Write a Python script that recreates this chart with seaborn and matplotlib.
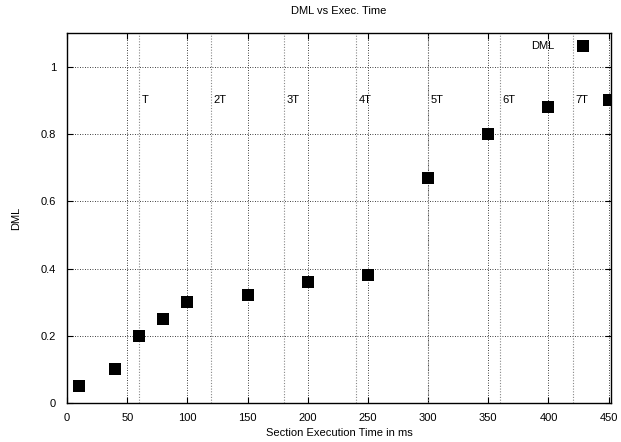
import matplotlib
matplotlib.use("Agg")
import matplotlib.pyplot as plt
import seaborn as sns
import pandas as pd

exec_time = [10, 40, 60, 80, 100, 150, 200, 250, 300, 350, 400, 450]
dml = [0.05, 0.10, 0.20, 0.25, 0.30, 0.32, 0.36, 0.38, 0.67, 0.80, 0.88, 0.90]
t_positions = [60, 120, 180, 240, 300, 360, 420]
t_labels = ["T", "2T", "3T", "4T", "5T", "6T", "7T"]
x_ticks = [0, 50, 100, 150, 200, 250, 300, 350, 400, 450]
y_ticks = [0, 0.2, 0.4, 0.6, 0.8, 1.0]
y_tick_labels = ["0", "0.2", "0.4", "0.6", "0.8", "1"]

sns.set_style("white")
plt.rcParams["font.family"] = ["Liberation Sans", "DejaVu Sans"]
plt.rcParams["text.color"] = "black"
plt.rcParams["axes.labelcolor"] = "black"
plt.rcParams["xtick.color"] = "black"
plt.rcParams["ytick.color"] = "black"

fig = plt.figure(figsize=(6.21, 4.42), dpi=100)
ax = fig.add_axes([0.108, 0.088, 0.876, 0.837])

df = pd.DataFrame({"x": exec_time, "y": dml})
sns.scatterplot(data=df, x="x", y="y", marker="s", s=80, color="black",
                edgecolor="black", linewidth=0, ax=ax, label="DML", zorder=5)

ax.set_xlim(0, 452)
ax.set_ylim(0, 1.1)
ax.set_xticks(x_ticks)
ax.set_yticks(y_ticks)
ax.set_yticklabels(y_tick_labels)

ax.grid(True, color="black", linestyle=(0, (1, 2)), linewidth=0.6)
for xp, lab in zip(t_positions, t_labels):
    ax.axvline(xp, color="#888888", linestyle=(0, (1, 1.5)), linewidth=0.8, zorder=1)
    ax.text(xp + 2, 0.9, lab, fontsize=8, va="center", ha="left", color="black")

ax.tick_params(direction="in", length=4, labelsize=8, top=True, right=True,
               bottom=True, left=True, width=0.8, colors="black")
ax.tick_params(axis="x", pad=7)
ax.tick_params(axis="y", pad=8)
for sp in ax.spines.values():
    sp.set_color("black")
    sp.set_linewidth(1.0)

ax.set_xlabel("Section Execution Time in ms", fontsize=8, labelpad=4, color="black")
ax.set_ylabel("DML", fontsize=8, labelpad=14, color="black")
ax.set_title("DML vs Exec. Time", fontsize=8, pad=14, color="black")

leg = ax.legend(loc="upper right", markerfirst=False, frameon=False, fontsize=8,
                handletextpad=1.6, borderaxespad=0.3, bbox_to_anchor=(0.983, 1.0))
for t in leg.get_texts():
    t.set_color("black")

fig.savefig("out.png", dpi=100)
